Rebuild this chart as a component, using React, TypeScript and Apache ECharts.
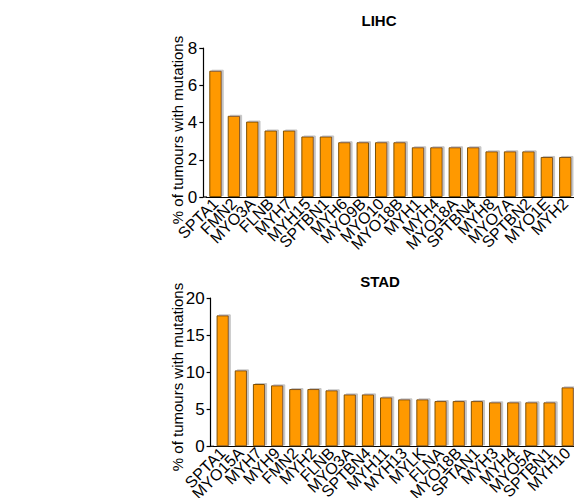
import React, { useEffect, useRef } from "react";
import * as echarts from "echarts";

const lihcGenes = ["SPTA1","FMN2","MYO3A","FLNB","MYH7","MYH15","SPTBN1","MYH6","MYO9B","MYO10","MYO18B","MYH1","MYH4","MYO18A","SPTBN4","MYH8","MYO7A","SPTBN2","MYO1E","MYH2"];
const lihcValues = [6.78,4.36,4.05,3.57,3.57,3.25,3.25,2.94,2.94,2.94,2.94,2.67,2.67,2.67,2.67,2.45,2.45,2.45,2.15,2.15];
const stadGenes = ["SPTA1","MYO15A","MYH7","MYH9","FMN2","MYH2","FLNB","MYO3A","SPTBN4","MYH11","MYH13","MYLK","FLNA","MYO18B","SPTAN1","MYH3","MYH4","MYO5A","SPTBN1","MYH10"];
const stadValues = [17.66,10.24,8.4,8.22,7.72,7.72,7.55,7.0,7.0,6.6,6.33,6.33,6.1,6.1,6.1,5.93,5.93,5.93,5.93,7.95];
const lihcTicks = [0, 8, 2];
const stadTicks = [0, 20, 5];
const yTitle = "% of tumours with mutations";

const FONT = "Liberation Sans, Arial, Helvetica, sans-serif";

export default function App() {
  const ref = useRef<HTMLDivElement>(null);
  useEffect(() => {
    const chart = echarts.init(ref.current!, undefined, { renderer: "svg" });
    const g1 = { left: 206.3, top: 48, width: 368.2, height: 149, containLabel: false, outerBoundsMode: "none" };
    const g2 = { left: 213.6, top: 298, width: 363.2, height: 148.3, containLabel: false, outerBoundsMode: "none" };
    const axisStyle = { lineStyle: { color: "#000", width: 1.2 } };
    const xAxis = (genes: string[], idx: number) => ({
      type: "category",
      gridIndex: idx,
      data: genes,
      axisLine: axisStyle,
      axisTick: { alignWithLabel: true, length: 4, lineStyle: { color: "#000", width: 1.2 } },
      axisLabel: { rotate: 45, fontSize: 16, color: "#000", fontFamily: FONT, margin: 4, interval: 0 },
    });
    const yAxis = (t: number[], idx: number) => ({
      type: "value",
      gridIndex: idx,
      min: t[0],
      max: t[1],
      interval: t[2],
      offset: 3,
      axisLine: { show: true, ...axisStyle },
      axisTick: { show: true, length: 4, lineStyle: { color: "#000", width: 1.2 } },
      splitLine: { show: false },
      axisLabel: { fontSize: 17, color: "#000", fontFamily: FONT, margin: 6 },
    });
    const barStyle = {
      color: "#FF9900",
      borderColor: "#7F5000",
      borderWidth: 1,
      shadowColor: "#c4c4c4",
      shadowBlur: 0,
      shadowOffsetX: 2,
      shadowOffsetY: -1,
    };
    chart.setOption({
      animation: false,
      grid: [g1, g2],
      xAxis: [xAxis(lihcGenes, 0), xAxis(stadGenes, 1)],
      yAxis: [yAxis(lihcTicks, 0), yAxis(stadTicks, 1)],
      series: [
        { type: "bar", xAxisIndex: 0, yAxisIndex: 0, data: lihcValues, barWidth: 12.4, itemStyle: barStyle },
        { type: "bar", xAxisIndex: 1, yAxisIndex: 1, data: stadValues, barWidth: 12.2, itemStyle: barStyle },
      ],
      graphic: [
        { type: "line", shape: { x1: 203.3, y1: 197, x2: 207, y2: 197 }, style: { stroke: "#000", lineWidth: 1.2 } },
        { type: "line", shape: { x1: 210.6, y1: 446.3, x2: 214, y2: 446.3 }, style: { stroke: "#000", lineWidth: 1.2 } },
        { type: "text", x: 379, y: 20, style: { text: "LIHC", font: `bold 15px ${FONT}`, fill: "#000", align: "center", verticalAlign: "middle" } },
        { type: "text", x: 380, y: 281, style: { text: "STAD", font: `bold 15px ${FONT}`, fill: "#000", align: "center", verticalAlign: "middle" } },
        { type: "text", x: 177, y: 130, rotation: Math.PI / 2, style: { text: yTitle, font: `15px ${FONT}`, fill: "#000", align: "center", verticalAlign: "middle" } },
        { type: "text", x: 177, y: 377, rotation: Math.PI / 2, style: { text: yTitle, font: `15px ${FONT}`, fill: "#000", align: "center", verticalAlign: "middle" } },
      ],
    });
    return () => chart.dispose();
  }, []);
  return (
    <div style={{ position: "fixed", left: 0, top: 0, width: 574, height: 498, overflow: "hidden", background: "#fff" }}>
      <div ref={ref} style={{ width: 582, height: 498 }} />
    </div>
  );
}
